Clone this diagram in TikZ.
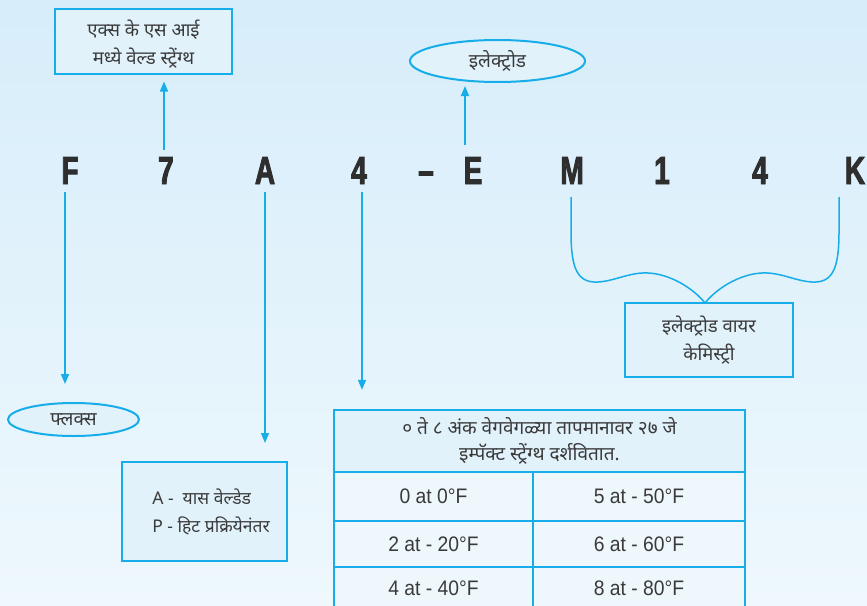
\documentclass[tikz,border=0pt]{standalone}
\usepackage{fontspec}
\setmainfont{Liberation Sans}
\newfontfamily\deva[Script=Devanagari]{Noto Sans}
\newfontfamily\condf[FakeStretch=0.72, FakeBold=2.2]{Liberation Sans Bold}
\newfontfamily\narrowf[FakeStretch=0.92]{Liberation Sans}
\usetikzlibrary{shapes.geometric,arrows.meta}
\definecolor{cyanb}{HTML}{17ADE8}
\definecolor{boxfill}{HTML}{E1F2FB}
\definecolor{cellfill}{HTML}{EDF7FC}
\definecolor{txt}{HTML}{3A3A3A}
\definecolor{bgtop}{HTML}{D7EDFA}
\definecolor{bgbot}{HTML}{EEF8FD}
\tikzset{
  letter/.style={inner sep=0pt, anchor=base, text=txt!80!black, font=\condf\fontsize{39}{40}\selectfont},
  arr/.style={draw=cyanb, line width=1.6pt, -{Triangle[length=10pt,width=8pt]}},
  brace/.style={draw=cyanb, line width=1.5pt},
  infobox/.style={draw=cyanb, line width=2pt, fill=boxfill, text=txt, align=center, inner sep=0pt, font=\deva\fontsize{18.5}{28}\selectfont},
  oval/.style={ellipse, draw=cyanb, line width=2pt, fill=boxfill, text=txt, inner sep=0pt, font=\deva\fontsize{19}{22}\selectfont},
  cell/.style={draw=cyanb, line width=2.2pt, fill=cellfill, text=txt, inner sep=0pt, minimum width=199pt, font=\narrowf\fontsize{21}{24}\selectfont},
  plain/.style={text=txt, inner sep=0pt},
}
\begin{document}
\begin{tikzpicture}[x=1pt,y=-1pt]
\useasboundingbox (0,0) rectangle (867,605);
\shade[top color=bgtop, bottom color=bgbot] (0,0) rectangle (867,605);
\clip (0,0) rectangle (867,605);

% code letters
\node[letter] (lF) at (70,184) {F};
\node[letter] (l7) at (166,184) {7};
\node[letter] (lA) at (265,184) {A};
\node[letter] (l4a) at (359,184) {4};
\node[letter] (ld) at (426,184) {–};
\node[letter] (lE) at (473,184) {E};
\node[letter] (lM) at (572,184) {M};
\node[letter] (l1) at (662,184) {1};
\node[letter] (l4b) at (760,184) {4};
\node[letter] (lK) at (855,184) {K};

% boxes and ovals
\node[infobox, minimum width=177pt, minimum height=65pt] (top) at (143.5,41) {};
\node[plain, align=center, font=\deva\fontsize{18.5}{28}\selectfont] (toptxt) at (143.5,44) {एक्स के एस आई\\मध्ये वेल्ड स्ट्रेंग्थ};
\node[oval, minimum width=175pt, minimum height=42pt] (elec) at (497.5,61) {इलेक्ट्रोड};
\node[oval, minimum width=131pt, minimum height=33pt] (flux) at (73.5,419.5) {फ्लक्स};
\node[infobox, minimum width=165pt, minimum height=99pt] (ap) at (204.5,511.5) {};
\node[plain, align=left, font=\deva\fontsize{17.5}{28}\selectfont] (aptxt) at (211,512) {A -\ \ यास वेल्डेड\\P - हिट प्रक्रियेनंतर};
\node[infobox, minimum width=168pt, minimum height=74pt] (wire) at (709,340) {इलेक्ट्रोड वायर\\केमिस्ट्री};

% table
\node[infobox, minimum width=411pt, minimum height=62pt, line width=2.4pt, font=\deva\fontsize{19}{26}\selectfont] (hdr) at (539.5,441) {० ते ८ अंक वेगवेगळ्या तापमानावर २७ जे\\इम्पॅक्ट स्ट्रेंग्थ दर्शवितात.};
\node[cell, minimum height=49pt] (c11) at (433.5,496.5) {0 at 0°F};
\node[cell, minimum width=212pt, minimum height=49pt] (c12) at (639,496.5) {5 at - 50°F};
\node[cell, minimum height=46pt] (c21) at (433.5,544) {2 at - 20°F};
\node[cell, minimum width=212pt, minimum height=46pt] (c22) at (639,544) {6 at - 60°F};
\node[cell, minimum height=46pt] (c31) at (433.5,590) {};
\node[cell, minimum width=212pt, minimum height=46pt] (c32) at (639,590) {};
\node[plain, font=\narrowf\fontsize{21}{24}\selectfont] (t31) at (433.5,588) {4 at - 40°F};
\node[plain, font=\narrowf\fontsize{21}{24}\selectfont] (t32) at (639,588) {8 at - 80°F};

% arrows
\draw[arr, shorten <=7pt, shorten >=7pt] ([xshift=-2pt]l7.north) -- ([xshift=-2pt]l7.north |- top.south);
\draw[arr, shorten <=12pt, shorten >=3pt] ([xshift=-8pt]lE.north) -- ([xshift=-8pt]lE.north |- elec.south);
\draw[arr, shorten <=8pt, shorten >=18pt] ([xshift=-5pt]lF.south) -- ([xshift=-5pt]lF.south |- flux.north);
\draw[arr, shorten <=8pt, shorten >=18pt] (lA.south) -- (lA.south |- ap.north);
\draw[arr, shorten <=8pt, shorten >=19pt] ([xshift=3pt]l4a.south) -- ([xshift=3pt]l4a.south |- hdr.north);

% brace from M and K to wire box
\coordinate (bL) at (571,197);
\coordinate (bR) at (839,197);
\coordinate (tip) at (705,303);
\draw[brace] (bL) -- (571,232) .. controls (571,270) and (578,283) .. (598,282)
  .. controls (615,281) and (630,272) .. (648,273)
  .. controls (670,274) and (693,288) .. (tip)
  .. controls (717,288) and (740,274) .. (762,273)
  .. controls (780,272) and (795,281) .. (812,282)
  .. controls (832,283) and (839,270) .. (839,232) -- (bR);
\end{tikzpicture}
\end{document}
